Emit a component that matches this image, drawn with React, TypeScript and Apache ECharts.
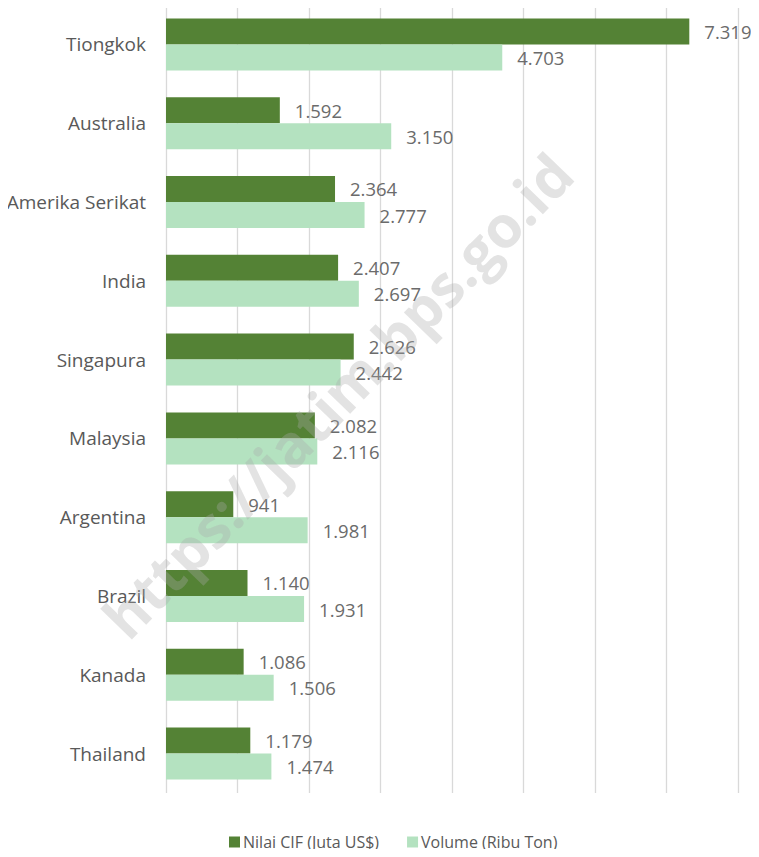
import React, { useEffect, useRef } from "react";
import * as echarts from "echarts";

const categories = ["Tiongkok", "Australia", "Amerika Serikat", "India", "Singapura", "Malaysia", "Argentina", "Brazil", "Kanada", "Thailand"];
const nilaiCIF = [7319, 1592, 2364, 2407, 2626, 2082, 941, 1140, 1086, 1179];
const volume = [4703, 3150, 2777, 2697, 2442, 2116, 1981, 1931, 1506, 1474];
const seriesNames = ["Nilai CIF (Juta US$)", "Volume (Ribu Ton)"];
const watermark = "https://jatim.bps.go.id";

const fmt = (v: number) => v.toString().replace(/\B(?=(\d{3})+(?!\d))/g, ".");

export default function App() {
  const ref = useRef<HTMLDivElement>(null);
  useEffect(() => {
    if (!ref.current) return;
    const chart = echarts.init(ref.current, undefined, { renderer: "svg" });
    const font = "'Open Sans', 'Noto Sans', sans-serif";
    const labelStyle = {
      show: true,
      position: "right",
      distance: 15,
      color: "#6b6b6b",
      fontSize: 18.5,
      fontFamily: font,
      formatter: (p: any) => fmt(p.value),
    };
    chart.setOption({
      animation: false,
      textStyle: { fontFamily: font },
      grid: { left: 166, right: 21, top: 5, bottom: 64, containLabel: false },
      xAxis: {
        type: "value",
        min: 0,
        max: 8000,
        interval: 1000,
        axisLabel: { show: false },
        axisLine: { show: false },
        axisTick: { show: false },
        splitLine: { show: true, lineStyle: { color: "#d9d9d9", width: 1.3 } },
      },
      yAxis: {
        type: "category",
        data: categories,
        inverse: true,
        axisLine: { show: false },
        axisTick: { show: false },
        axisLabel: { color: "#595959", fontSize: 19, margin: 20, fontFamily: font },
      },
      legend: {
        top: 831,
        left: 229,
        padding: 0,
        itemWidth: 11,
        itemHeight: 11,
        itemGap: 28,
        icon: "rect",
        textStyle: { color: "#595959", fontSize: 16, lineHeight: 22, fontFamily: font, padding: [0, 0, 0, -2] },
        data: seriesNames,
      },
      series: [
        {
          name: seriesNames[0],
          type: "bar",
          data: nilaiCIF,
          barGap: "0%",
          barCategoryGap: "34%",
          itemStyle: { color: "#548235" },
          label: labelStyle,
        },
        {
          name: seriesNames[1],
          type: "bar",
          data: volume,
          barGap: "0%",
          barCategoryGap: "34%",
          itemStyle: { color: "#b4e2c0" },
          label: labelStyle,
        },
      ],
      graphic: [
        {
          type: "text",
          x: 337,
          y: 395,
          rotation: (46 * Math.PI) / 180,
          z: 100,
          style: {
            text: watermark,
            fontSize: 58,
            fontWeight: "bold",
            fontFamily: font,
            fill: "rgba(170,170,170,0.33)",
            textAlign: "center",
            textVerticalAlign: "middle",
          },
        },
      ],
    });
    return () => chart.dispose();
  }, []);
  return <div ref={ref} style={{ width: 759, height: 857, margin: -8 }} />;
}
